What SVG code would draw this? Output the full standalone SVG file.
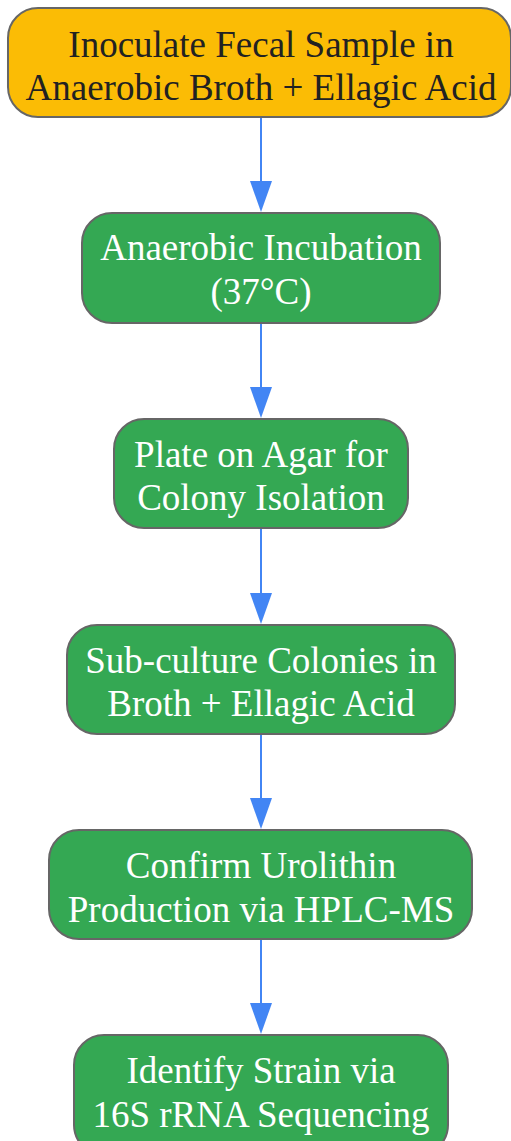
<svg xmlns="http://www.w3.org/2000/svg" width="511" height="1141" viewBox="0 0 511 1141">
<defs>
<style>
.n rect{stroke:#666;stroke-width:2}
.o rect{fill:#FBBC05}
.g rect{fill:#34A853}
.n text{font-family:"Liberation Serif",serif;font-size:37px;text-anchor:middle}
.o text{fill:#222}
.g text{fill:#fff}
.e line{stroke:#4285F4;stroke-width:2}
.e path{fill:#4285F4}
</style>
</defs>
<rect width="511" height="1141" fill="#fff"/>
<g class="e" id="edges">
<line x1="261" y1="117" x2="261" y2="183"/><path d="M250,181 L272,181 L261,212 Z"/>
<line x1="261" y1="323" x2="261" y2="389"/><path d="M250,387 L272,387 L261,418 Z"/>
<line x1="261" y1="528" x2="261" y2="595"/><path d="M250,593 L272,593 L261,624 Z"/>
<line x1="261" y1="734" x2="261" y2="800"/><path d="M250,798 L272,798 L261,829 Z"/>
<line x1="261" y1="939" x2="261" y2="1005"/><path d="M250,1003 L272,1003 L261,1034 Z"/>
</g>
<g class="n o" id="n1"><rect x="8" y="8" width="503" height="109" rx="30"/><text x="261" y="56.5">Inoculate Fecal Sample in</text><text x="261" y="99.5">Anaerobic Broth + Ellagic Acid</text></g>
<g class="n g" id="n2"><rect x="82" y="213" width="358" height="110" rx="30"/><text x="261" y="259.5">Anaerobic Incubation</text><text x="261" y="303.5">(37°C)</text></g>
<g class="n g" id="n3"><rect x="114" y="419" width="294" height="109" rx="30"/><text x="261" y="466.5">Plate on Agar for</text><text x="261" y="509.5">Colony Isolation</text></g>
<g class="n g" id="n4"><rect x="67" y="625" width="388" height="109" rx="30"/><text x="261" y="672.5">Sub-culture Colonies in</text><text x="261" y="715.5">Broth + Ellagic Acid</text></g>
<g class="n g" id="n5"><rect x="49" y="830" width="423" height="109" rx="30"/><text x="261" y="877.5">Confirm Urolithin</text><text x="261" y="921.5">Production via HPLC-MS</text></g>
<g class="n g" id="n6"><rect x="74" y="1035" width="374" height="120" rx="30"/><text x="261" y="1082.5">Identify Strain via</text><text x="261" y="1126.5">16S rRNA Sequencing</text></g>
</svg>
